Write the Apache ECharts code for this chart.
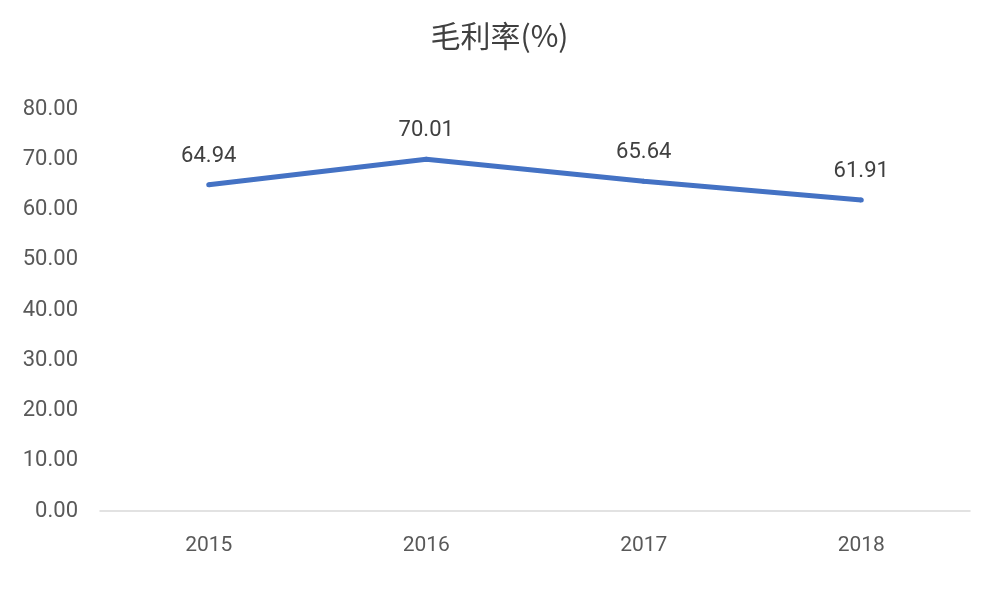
<!DOCTYPE html>
<html><head><meta charset="utf-8">
<script src="https://cdn.jsdelivr.net/npm/echarts@6/dist/echarts.min.js"></script>
<style>html,body{margin:0;padding:0;background:#fff}#c{width:999px;height:599px}</style>
</head><body><div id="c"></div>
<script>
const categories = ['2015', '2016', '2017', '2018'];
const grossMargin = [64.94, 70.01, 65.64, 61.91];
const yTicks = [0, 10, 20, 30, 40, 50, 60, 70, 80];

const chart = echarts.init(document.getElementById('c'));
chart.setOption({
  backgroundColor: '#fff',
  animation: false,
  title: {
    text: '毛利率(%)', left: 'center', top: 16,
    textStyle: { fontFamily: 'Noto Sans CJK SC', fontSize: 30, fontWeight: 'normal', color: '#404040' }
  },
  grid: { left: 100, right: 29, top: 109, bottom: 88 },
  xAxis: {
    type: 'category', data: categories, boundaryGap: true,
    axisLine: { lineStyle: { color: '#d9d9d9', width: 1.5 } },
    axisTick: { show: false },
    axisLabel: { color: '#595959', fontSize: 21, margin: 24, fontFamily: 'Roboto' }
  },
  yAxis: {
    type: 'value', min: yTicks[0], max: yTicks[yTicks.length - 1], interval: 10,
    axisLine: { show: false }, axisTick: { show: false },
    splitLine: { show: false },
    axisLabel: { color: '#595959', fontSize: 22, margin: 22, fontFamily: 'Roboto',
      formatter: v => v.toFixed(2) }
  },
  series: [{
    type: 'line', data: grossMargin, symbol: 'circle', symbolSize: 5, showSymbol: true,
    lineStyle: { color: '#4472C4', width: 5 },
    itemStyle: { color: '#4472C4' },
    label: { show: true, position: 'top', distance: 15, color: '#404040', fontSize: 22,
      fontFamily: 'Roboto', formatter: p => Number(p.value).toFixed(2) }
  }]
});
</script></body></html>
